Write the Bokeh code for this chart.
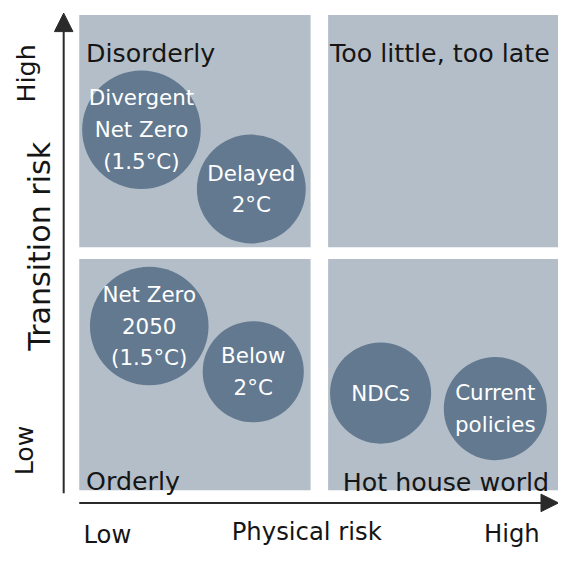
import math
from bokeh.plotting import figure
from bokeh.models import Range1d, Arrow, NormalHead, ColumnDataSource
from bokeh.embed import file_html
from bokeh.resources import INLINE
from bokeh.core.properties import value

# ---- data (chart units: 574 x 566 canvas, y grows downward) ----
quad_names = ["Disorderly", "Too little, too late", "Orderly", "Hot house world"]
quad_left = [81, 337, 81, 337]
quad_right = [319, 574, 319, 574]
quad_top = [15, 15, 266, 266]
quad_bottom = [254, 254, 504, 504]
quad_label_x = [88, 339, 88, 352]
quad_label_y = [55, 55, 495, 496]

scenarios = ["Divergent\nNet Zero\n(1.5°C)", "Delayed\n2°C", "Net Zero\n2050\n(1.5°C)",
             "Below\n2°C", "NDCs", "Current\npolicies"]
physical_risk = [145, 258, 153, 260, 391, 509]
transition_risk = [133, 194, 335, 382, 404, 420]
bubble_radius = [61, 56, 61, 52, 52, 53]

y_axis_labels = ["High", "Transition risk", "Low"]
y_axis_label_x = [27, 40, 25]
y_axis_label_y = [75, 253, 463]
y_axis_label_size = [26, 31, 26]

x_axis_labels = ["Low", "Physical risk", "High"]
x_axis_label_x = [110, 315, 526]
x_axis_label_y = [550, 546, 549]

W, H = 558, 550
CW, CH = 574, 566
S = W / CW

def px(v):
    return f"{v * S:.1f}px"

p = figure(width=W, height=H, x_range=Range1d(0, CW), y_range=Range1d(CH, 0),
           output_backend="svg", toolbar_location=None, min_border=0,
           x_axis_location=None, y_axis_location=None)
p.grid.visible = False
p.outline_line_color = None
p.background_fill_color = "white"
p.border_fill_color = "white"

FONT = value("DejaVu Sans")

# quadrants
p.quad(left=quad_left, right=quad_right, top=quad_top, bottom=quad_bottom,
       fill_color="#b4bec8", line_color=None)

p.text(x=quad_label_x, y=quad_label_y, text=quad_names, text_font=FONT,
       text_font_size=px(26), text_color="#151515", text_align="left",
       text_baseline="alphabetic")

# bubbles
src = ColumnDataSource(dict(x=physical_risk, y=transition_risk, r=bubble_radius, t=scenarios))
p.circle(x="x", y="y", radius="r", source=src, fill_color="#627990", line_color=None)
p.text(x="x", y="y", text="t", source=src, text_font=FONT, text_font_size=px(22),
       text_color="white", text_align="center", text_baseline="middle",
       text_line_height=1.27)

# axes arrows
ax_color = "#2a2a2a"
p.add_layout(Arrow(end=NormalHead(size=19 * S, fill_color=ax_color, line_color=ax_color),
                   x_start=65, y_start=507, x_end=65, y_end=13,
                   line_color=ax_color, line_width=2))
p.add_layout(Arrow(end=NormalHead(size=18 * S, fill_color=ax_color, line_color=ax_color),
                   x_start=81, y_start=517, x_end=574, y_end=517,
                   line_color=ax_color, line_width=2))

# axis labels
for lab, x, y, fs in zip(y_axis_labels, y_axis_label_x, y_axis_label_y, y_axis_label_size):
    p.text(x=[x], y=[y], text=[lab], angle=math.pi / 2, text_font=FONT,
           text_font_size=px(fs), text_color="#151515", text_align="center",
           text_baseline="middle")

p.text(x=x_axis_label_x, y=x_axis_label_y, text=x_axis_labels, text_font=FONT,
       text_font_size=px(25), text_color="#151515", text_align="center",
       text_baseline="alphabetic")

open("out.html", "w").write(file_html(p, INLINE))
